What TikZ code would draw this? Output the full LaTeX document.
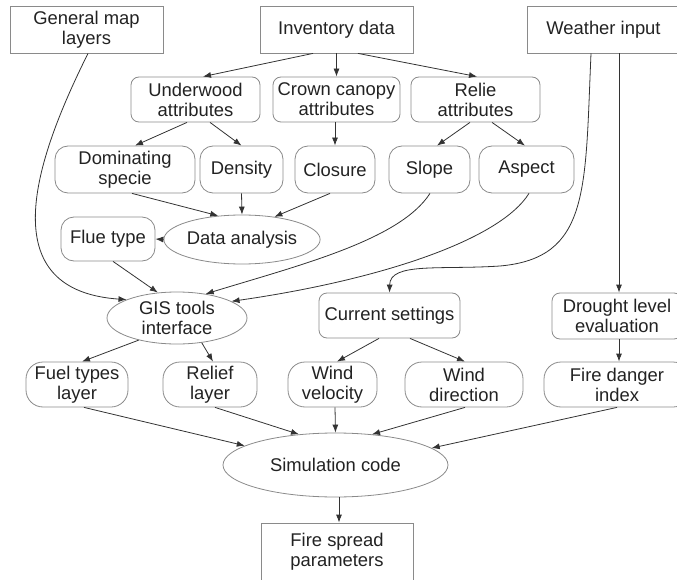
\documentclass[tikz,border=0pt]{standalone}
\usepackage{fontspec}
\setmainfont{Liberation Sans}
\usetikzlibrary{arrows.meta,shapes.geometric}
\definecolor{boxgray}{HTML}{8A8A8A}
\definecolor{linegray}{HTML}{333333}
\definecolor{txt}{HTML}{222222}
\tikzset{
  base/.style={draw=boxgray,line width=0.8pt,inner sep=0pt,align=center,text=txt,
    font=\fontsize{18.4}{20}\selectfont},
  sqbox/.style={base,rectangle},
  rbox/.style={base,rectangle,rounded corners=8pt},
  rrbox/.style={base,rectangle,rounded corners=13pt},
  pbox/.style={base,rectangle,rounded corners=17pt},
  ell/.style={base,ellipse},
  conn/.style={draw=linegray,line width=0.8pt,-{Latex[length=8pt,width=6pt]}},
}
\begin{document}
\begin{tikzpicture}[x=1pt,y=-1pt]
\useasboundingbox (0,0) rectangle (677,580);
% top row
\node[sqbox,minimum width=153pt,minimum height=47pt] (gen) at (86.5,29.5) {General map\\layers};
\node[sqbox,minimum width=153pt,minimum height=47pt] (inv) at (336.5,29.5) {Inventory data};
\node[sqbox,minimum width=153pt,minimum height=47pt] (wea) at (603.5,29.5) {Weather input};
% attributes
\node[rbox,minimum width=129pt,minimum height=45pt] (und) at (195.5,99.5) {Underwood\\attributes};
\node[rbox,minimum width=127pt,minimum height=45pt] (crown) at (336.5,99.5) {Crown canopy\\attributes};
\node[rbox,minimum width=129pt,minimum height=45pt] (relie) at (475.5,99.5) {Relie\\attributes};
% third row
\node[rrbox,minimum width=140pt,minimum height=47pt] (dom) at (125,169.5) {Dominating\\specie};
\node[rrbox,minimum width=83pt,minimum height=47pt] (dens) at (241.5,169.5) {Density};
\node[rrbox,minimum width=80pt,minimum height=47pt] (clos) at (335,169.5) {Closure};
\node[rrbox,minimum width=81pt,minimum height=47pt] (slope) at (429.5,169.5) {Slope};
\node[rrbox,minimum width=95pt,minimum height=47pt] (aspect) at (526.5,169.5) {Aspect};
% analysis
\node[ell,minimum width=132pt,minimum height=49pt] (da) at (242,239.5) {Data analysis};
\node[rrbox,minimum width=94pt,minimum height=44pt] (flue) at (108,239) {Flue type};
\node[ell,minimum width=140pt,minimum height=52pt] (gis) at (177,318) {GIS tools\\interface};
\node[rbox,minimum width=141pt,minimum height=45pt] (cur) at (389.5,315.5) {Current settings};
\node[rbox,minimum width=130pt,minimum height=46pt] (drought) at (617,316) {Drought level\\evaluation};
% layers
\node[pbox,minimum width=102pt,minimum height=45pt] (fuel) at (77,384.5) {Fuel types\\layer};
\node[pbox,minimum width=94pt,minimum height=45pt] (relief) at (210,384.5) {Relief\\layer};
\node[pbox,minimum width=89pt,minimum height=45pt] (wv) at (332.5,384.5) {Wind\\velocity};
\node[pbox,minimum width=118pt,minimum height=45pt] (wd) at (464,384.5) {Wind\\direction};
\node[pbox,minimum width=146pt,minimum height=45pt] (fdi) at (617,384.5) {Fire danger\\index};
% simulation
\node[ell,minimum width=225pt,minimum height=64pt] (sim) at (335.5,465) {Simulation code};
\node[sqbox,minimum width=152pt,minimum height=58pt] (fsp) at (337,552) {Fire spread\\parameters};
% connectors
\draw[conn] ([xshift=-23.5pt]inv.south) -- ([xshift=7.5pt]und.north);
\draw[conn] (inv.south) -- (crown.north);
\draw[conn] ([xshift=21.5pt]inv.south) -- ([xshift=1.5pt]relie.north);
\draw[conn] ([xshift=-8.5pt]und.south) -- ([xshift=10pt]dom.north);
\draw[conn] ([xshift=14.5pt]und.south) -- (dens.north);
\draw[conn] ([xshift=-1.5pt]crown.south) -- (clos.north);
\draw[conn] ([xshift=-5.5pt]relie.south) -- ([xshift=7.5pt]slope.north);
\draw[conn] ([xshift=16.5pt]relie.south) -- ([xshift=-1.5pt]aspect.north);
\draw[conn] ([xshift=7pt]dom.south) -- (da.135);
\draw[conn] (dens.south) -- (da.north);
\draw[conn] ([xshift=-5pt]clos.south) -- (da.35);
\draw[conn] (da.west) -- (flue.east);
\draw[conn] ([xshift=5pt]flue.south) -- (gis.127);
\draw[conn] ([xshift=1.5pt]gen.south) .. controls (40,150) and (-14,290) .. (gis.160);
\draw[conn] ([xshift=0.5pt]slope.south) .. controls (400,240) and (300,265) .. (gis.40);
\draw[conn] ([xshift=2.5pt]aspect.south) .. controls (500,240) and (380,280) .. (gis.17);
\draw[conn] ([xshift=-12.5pt]wea.south) .. controls (585,190) and (590,258) .. (500,266)
  .. controls (440,270) and (390,262) .. (cur.north);
\draw[conn] ([xshift=15.5pt]wea.south) -- ([xshift=2pt]drought.north);
\draw[conn] (gis.-150) -- ([xshift=5pt]fuel.north);
\draw[conn] (gis.-45) -- ([xshift=3pt]relief.north);
\draw[conn] ([xshift=-10.5pt]cur.south) -- ([xshift=4.5pt]wv.north);
\draw[conn] ([xshift=20.5pt]cur.south) -- ([xshift=1pt]wd.north);
\draw[conn] ([xshift=2pt]drought.south) -- ([xshift=2pt]fdi.north);
\draw[conn] ([xshift=7pt]fuel.south) -- (sim.168);
\draw[conn] ([xshift=5pt]relief.south) -- (sim.140);
\draw[conn] ([xshift=2.5pt]wv.south) -- (sim.north);
\draw[conn] ([xshift=1pt]wd.south) -- (sim.40);
\draw[conn] (fdi.south) -- (sim.10);
\draw[conn] ([xshift=3.5pt]sim.south) -- ([xshift=2pt]fsp.north);
\end{tikzpicture}
\end{document}
